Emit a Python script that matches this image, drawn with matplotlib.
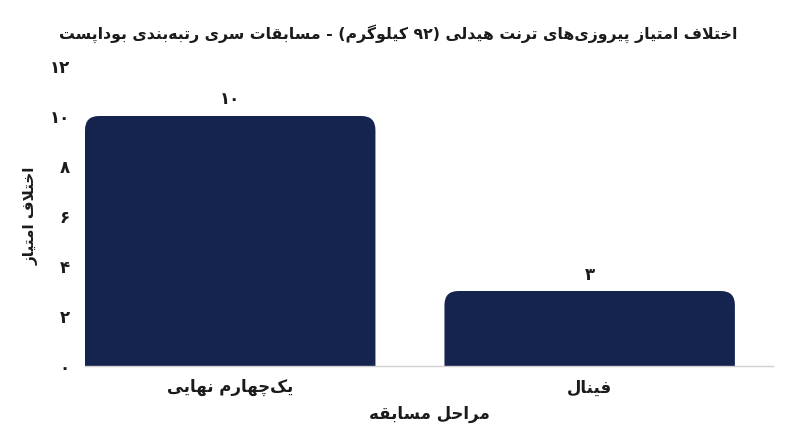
import re

import matplotlib
matplotlib.use("Agg")
import matplotlib.pyplot as plt
from matplotlib.patches import FancyBboxPatch


# ---------------------------------------------------------------------
# Data
# ---------------------------------------------------------------------

TITLE = "اختلاف امتیاز پیروزی‌های ترنت هیدلی (۹۲ کیلوگرم) - مسابقات سری رتبه‌بندی بوداپست"
X_LABEL = "مراحل مسابقه"
Y_LABEL = "اختلاف امتیاز"

STAGES = ["یک‌چهارم نهایی", "فینال"]
SCORE_DIFF = [10, 3]
Y_TICKS = [0, 2, 4, 6, 8, 10, 12]

BAR_COLOR = "#14244E"
TEXT_COLOR = "#1b1b1b"


# ---------------------------------------------------------------------
# Minimal Persian shaping (matplotlib has no complex text layout)
# forms: isolated, final, initial, medial
# ---------------------------------------------------------------------

RIGHT_JOIN = {
    "ا": (0xFE8D, 0xFE8E), "د": (0xFEA9, 0xFEAA), "ذ": (0xFEAB, 0xFEAC),
    "ر": (0xFEAD, 0xFEAE), "ز": (0xFEAF, 0xFEB0), "ژ": (0xFB8A, 0xFB8B),
    "و": (0xFEED, 0xFEEE),
}
DUAL_JOIN = {
    "ب": 0xFE8F, "ت": 0xFE95, "ث": 0xFE99, "ج": 0xFE9D, "ح": 0xFEA1,
    "خ": 0xFEA5, "س": 0xFEB1, "ش": 0xFEB5, "ص": 0xFEB9, "ض": 0xFEBD,
    "ط": 0xFEC1, "ظ": 0xFEC5, "ع": 0xFEC9, "غ": 0xFECD, "ف": 0xFED1,
    "ق": 0xFED5, "ل": 0xFEDD, "م": 0xFEE1, "ن": 0xFEE5, "ه": 0xFEE9,
    "پ": 0xFB56, "چ": 0xFB7A, "ک": 0xFB8E, "گ": 0xFB92, "ی": 0xFBFC,
}


def shape(text):
    chars = list(text)
    out = []
    i = 0
    while i < len(chars):
        c = chars[i]
        prev = chars[i - 1] if i > 0 else ""
        nxt = chars[i + 1] if i + 1 < len(chars) else ""
        joined_prev = prev in DUAL_JOIN
        if c == "ل" and nxt == "ا":
            out.append("\uFEFC" if joined_prev else "\uFEFB")
            i += 2
            continue
        if c in RIGHT_JOIN:
            out.append(chr(RIGHT_JOIN[c][1 if joined_prev else 0]))
        elif c in DUAL_JOIN:
            to_next = nxt in DUAL_JOIN or nxt in RIGHT_JOIN
            if joined_prev and to_next:
                k = 3
            elif joined_prev:
                k = 1
            elif to_next:
                k = 2
            else:
                k = 0
            out.append(chr(DUAL_JOIN[c] + k))
        elif c != "\u200c":
            out.append(c)
        i += 1
    return "".join(out)


def rtl(text):
    s = shape(text)[::-1]
    s = re.sub(r"[0-9۰-۹]+", lambda m: m.group(0)[::-1], s)
    return s.translate(str.maketrans("()", ")("))


def fa_num(n):
    return str(n).translate(str.maketrans("0123456789", "۰۱۲۳۴۵۶۷۸۹"))


# ---------------------------------------------------------------------
# Plot
# ---------------------------------------------------------------------

plt.rcParams["font.family"] = ["DejaVu Sans"]
plt.rcParams["font.weight"] = "bold"

fig = plt.figure(figsize=(8.0, 4.47), dpi=100)
ax = fig.add_axes([85 / 800, 81 / 447, 688 / 800, 300 / 447])

x = list(range(len(STAGES)))
bars = ax.bar(x, SCORE_DIFF, width=0.808, color="none")

ax.set_xlim(-0.404, 1.51)
ax.set_ylim(0, 12)

# rounded top corners, square bottom (clipped below zero)
x_per_px = 1.914 / 688
y_per_px = 12 / 300
r_px = 14
for b in bars:
    patch = FancyBboxPatch(
        (b.get_x(), -r_px * y_per_px), b.get_width(), b.get_height() + r_px * y_per_px,
        boxstyle=f"round,pad=0,rounding_size={r_px * x_per_px}",
        mutation_aspect=y_per_px / x_per_px,
        facecolor=BAR_COLOR, edgecolor="none", zorder=2, clip_on=True,
    )
    ax.add_patch(patch)
    ax.text(b.get_x() + b.get_width() / 2, b.get_height() + 0.3, fa_num(int(b.get_height())),
            ha="center", va="bottom", fontsize=12, fontweight="bold", color=TEXT_COLOR)

ax.set_yticks(Y_TICKS)
ax.set_yticklabels([fa_num(v) for v in Y_TICKS], fontsize=12, fontweight="bold", color=TEXT_COLOR)
ax.set_xticks(x)
ax.set_xticklabels([rtl(s) for s in STAGES], fontsize=12, fontweight="bold", color=TEXT_COLOR)
ax.tick_params(axis="both", length=0)
ax.tick_params(axis="y", pad=11)
ax.tick_params(axis="x", pad=9)

for side in ["top", "right", "left"]:
    ax.spines[side].set_visible(False)
ax.spines["bottom"].set_color("#d0d0d0")
ax.spines["bottom"].set_linewidth(1.0)
ax.spines["bottom"].set_zorder(3)

ax.set_xlabel(rtl(X_LABEL), fontsize=12, fontweight="bold", color=TEXT_COLOR, labelpad=6)
ax.set_ylabel(rtl(Y_LABEL), fontsize=11, fontweight="bold", color=TEXT_COLOR, labelpad=8)
fig.suptitle(rtl(TITLE), x=0.4975, y=0.945, fontsize=11.3, fontweight="bold", color=TEXT_COLOR)

fig.savefig("out.png", dpi=100)
